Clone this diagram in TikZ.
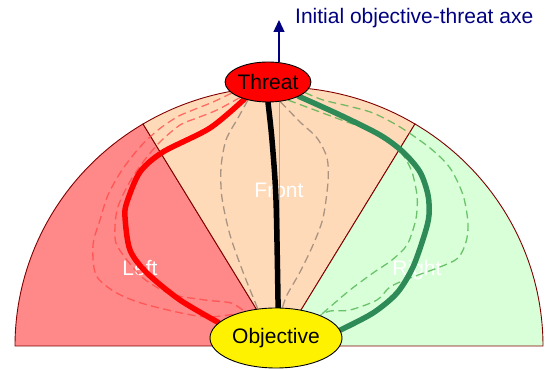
\documentclass[tikz,border=0pt]{standalone}
\usepackage{xcolor}
\usepackage{fontspec}
\setmainfont{Liberation Sans}
\usepackage{tikz}
\usetikzlibrary{arrows.meta,shapes.geometric,backgrounds}

\definecolor{leftzone}{RGB}{255,136,136}
\definecolor{frontzone}{RGB}{255,218,185}
\definecolor{rightzone}{RGB}{217,255,217}
\definecolor{zoneline}{RGB}{128,0,0}
\definecolor{routegreen}{RGB}{46,139,87}
\definecolor{altred}{RGB}{255,70,70}
\definecolor{altgray}{RGB}{140,125,110}
\definecolor{altgreen}{RGB}{70,175,70}
\definecolor{axisnavy}{RGB}{0,0,128}
\definecolor{axisthin}{RGB}{175,155,200}

\begin{document}
\begin{tikzpicture}[x=1pt,y=1pt,
  zone/.style={draw=zoneline, line width=0.9pt},
  zonetext/.style={text=white, font=\fontsize{21}{25}\selectfont},
  place/.style={ellipse, draw=black, line width=0.9pt, inner sep=0pt,
    font=\fontsize{21}{25}\selectfont},
  route/.style={line width=5.5pt, line cap=round},
  altroute/.style={line width=1.3pt, dash pattern=on 8pt off 4.5pt, draw opacity=0.75}]
\useasboundingbox (0,0) rectangle (547,369);

\node[place, fill=red, minimum width=82pt, minimum height=40pt] (threat) at (268,287) {Threat};
\node[place, fill=yellow, minimum width=132pt, minimum height=60pt] (objective) at (276,31) {Objective};
\coordinate (centre) at (279,23);
\coordinate (axtop) at (279,349);

\begin{scope}[on background layer]
% the three zones
\filldraw[zone, fill=leftzone] (centre) -- ++(180:264 and 259)
  arc[start angle=180, end angle=121, x radius=264, y radius=259] -- cycle;
\filldraw[zone, fill=frontzone] (centre) -- ++(121:264 and 259)
  arc[start angle=121, end angle=59, x radius=264, y radius=259] -- cycle;
\filldraw[zone, fill=rightzone] (centre) -- ++(59:264 and 259)
  arc[start angle=59, end angle=0, x radius=264, y radius=259] -- cycle;
\node[zonetext] (lefttext) at (140,101) {Left};
\node[zonetext] (fronttext) at (279,179) {Front};
\node[zonetext] (righttext) at (417,99) {Right};

\draw[axisthin, line width=0.8pt] (objective.north -| axtop) -- (threat.south -| axtop);

% dashed alternatives
\draw[altroute, altred] plot[smooth] coordinates {(threat.197) (213,267) (193,259) (177,252)
  (158,239) (140,222) (122,199) (108,174) (100,149) (93,124) (96,94) (115,77) (141,66)
  (181,56) (208,52) (objective.150)};
\draw[altroute, altred] plot[smooth] coordinates {(threat.209) (217,259) (197,251) (180,244)
  (160,227) (143,207) (128,184) (117,159) (115,131) (121,117) (143,91) (171,75) (205,69)
  (231,66) (objective.140)};
\draw[altroute, altgray] plot[smooth] coordinates {(threat.222) (238,251) (226,229) (221,201)
  (222,171) (230,134) (243,97) (255,67) (objective.122)};
\draw[altroute, altgray] plot[smooth] coordinates {(threat.302) (300,247) (317,231) (327,211)
  (328,187) (323,151) (313,124) (300,97) (287,74) (objective.78)};
\draw[altroute, altgreen] plot[smooth] coordinates {(threat.318) (320,257) (347,247) (370,239)
  (390,227) (403,214) (412,197) (417,174) (417,159) (415,146) (407,124) (392,109) (373,96)
  (350,79) (330,62) (objective.27)};
\draw[altroute, altgreen] plot[smooth] coordinates {(threat.344) (323,269) (348,263) (373,256)
  (400,242) (430,221) (450,201) (463,174) (468,146) (466,127) (458,111) (440,102) (410,91)
  (390,82) (377,69) (350,59) (330,58) (objective.27)};

% chosen routes
\draw[route, red] plot[smooth] coordinates {(threat.216) (210,241) (163,217) (140,197)
  (127,167) (125,152) (130,119) (147,96) (180,69) (objective.165)};
\draw[route, black] plot[smooth] coordinates {(threat.south) (272,229) (276,169) (objective.86)};
\draw[route, routegreen] plot[smooth] coordinates {(threat.335) (340,254) (380,234) (403,217)
  (420,197) (428,174) (429,154) (425,136) (413,102) (397,76) (373,56) (objective.7)};
\end{scope}

\draw[axisnavy, line width=1.3pt, -{Triangle[length=12pt, width=11pt]}] (threat.north -| axtop) -- (axtop);
\node[text=axisnavy, font=\fontsize{21}{25}\selectfont, anchor=west, inner sep=0pt] (axislabel)
  at (295,351) {Initial objective-threat axe};
\end{tikzpicture}
\end{document}
